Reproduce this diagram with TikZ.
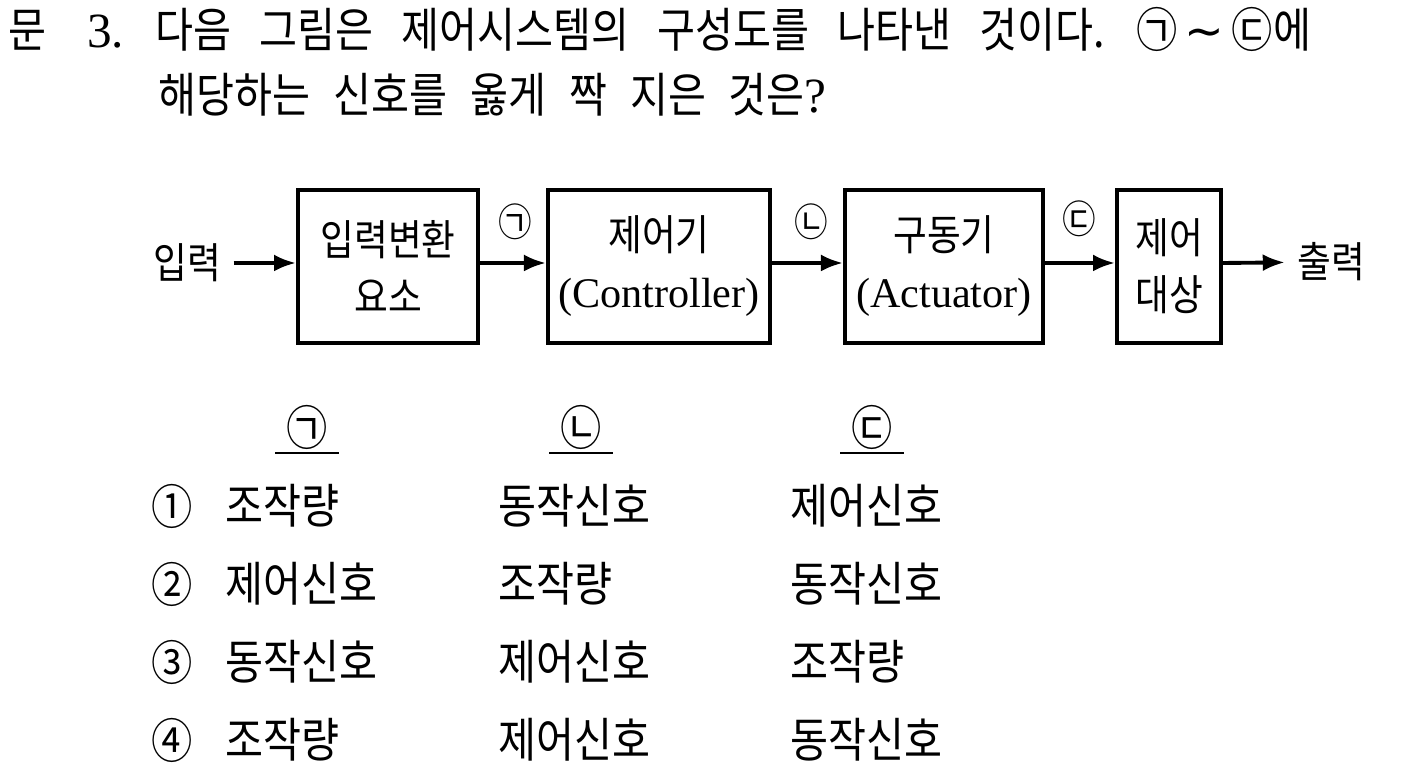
\documentclass[tikz,border=0pt]{standalone}
\usepackage{fontspec}
\setmainfont{Noto Sans CJK KR}[FakeStretch=0.87]
\newfontfamily\lat{Liberation Serif}
\newfontfamily\sym{DejaVu Sans}
\usetikzlibrary{arrows.meta}

\begin{document}
\begin{tikzpicture}[x=0.01cm,y=-0.01cm,
  blk/.style={draw,line width=1.1pt,minimum height=1.53cm,inner sep=0pt,align=center,
    font=\fontsize{12pt}{16.2pt}\selectfont},
  sig/.style={line width=1.1pt,-{Latex[length=2.2mm,width=1.7mm]}},
  lbl/.style={font=\fontsize{11pt}{13pt}\selectfont},
  dtxt/.style={font=\fontsize{12pt}{14pt}\selectfont},
  txt/.style={font=\fontsize{13.5pt}{16pt}\selectfont},
  qst/.style={anchor=west,inner sep=0pt,font=\fontsize{13.5pt}{16pt}\selectfont}]
\useasboundingbox (0,0) rectangle (1420,771);
% question
\node[qst] (q1) at (8,29)
  {\spaceskip=8pt\relax 문\hspace{11.5pt}{\lat\fontsize{14pt}{16pt}\selectfont 3.} 다음 그림은 제어시스템의 구성도를 나타낸 것이다. ㉠\hspace{2pt}{\sym ∼}\hspace{2pt}㉢에};
\node[qst] (q2) at (158,95)
  {\spaceskip=6.5pt\relax 해당하는 신호를 옳게 짝 지은 것은{\lat\fontsize{14pt}{16pt}\selectfont ?}};
% block diagram
\node[dtxt] (in) at (187.5,263) {입력};
\node[blk,minimum width=1.8cm] (b1) at (388,266.5) {입력변환\\요소};
\node[blk,minimum width=2.22cm] (b2) at (659,266.5) {제어기\\{\lat (Controller)}};
\node[blk,minimum width=1.98cm] (b3) at (944,266.5) {구동기\\{\lat (Actuator)}};
\node[blk,minimum width=1.04cm] (b4) at (1169,266.5) {제어\\대상};
\node[dtxt] (out) at (1331,262) {출력};
\draw[sig] (in) -- (b1.west |- in);
\draw[sig] (b1.east |- in) -- (b2.west |- in);
\draw[sig] (b2.east |- in) -- (b3.west |- in);
\draw[sig] (b3.east |- in) -- (b4.west |- in);
\draw[sig] (b4.east |- in) -- (out);
\node[lbl] (s1) at (515,222) {㉠};
\node[lbl] (s2) at (811,222) {㉡};
\node[lbl] (s3) at (1079,219) {㉢};
% answers
\foreach \s/\x [count=\j] in {㉠/307,㉡/581,㉢/872} {
  \node[txt] (h\j) at (\x,427) {\s};
  \draw[line width=0.5pt] (\x-32,453) -- (\x+32,453);
}
\foreach \n/\a/\b/\c [count=\i] in {①/조작량/동작신호/제어신호,②/제어신호/조작량/동작신호,
    ③/동작신호/제어신호/조작량,④/조작량/제어신호/동작신호} {
  \node[txt] (no\i) at (172,428+78*\i) {\n};
  \node[txt,anchor=west,inner sep=0pt] (ca\i) at (225,428+78*\i) {\a};
  \node[txt,anchor=west,inner sep=0pt] (cb\i) at (498,428+78*\i) {\b};
  \node[txt,anchor=west,inner sep=0pt] (cc\i) at (790,428+78*\i) {\c};
}
\end{tikzpicture}
\end{document}
